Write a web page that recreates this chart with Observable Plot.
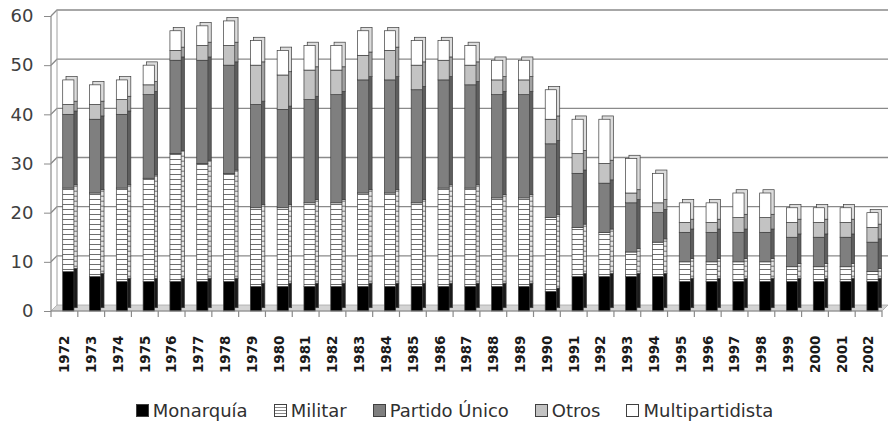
<!DOCTYPE html>
<html>
<head>
<meta charset="utf-8">
<script src="https://cdn.jsdelivr.net/npm/d3@7"></script>
<script src="https://cdn.jsdelivr.net/npm/@observablehq/plot@0.6"></script>
<style>
  body { margin: 0; background: #fff; font-family: "DejaVu Sans", sans-serif; }
  #legend { display: flex; justify-content: center; align-items: center; margin-top: 15px; height: 30px; font-size: 18px; color: #303030; padding-left: 18px; }
  .item { display: flex; align-items: center; margin: 0 13px; }
  .sw { width: 13px; height: 13px; border: 1px solid #404040; margin-right: 4px; box-sizing: border-box; }
</style>
</head>
<body>
<div id="chart"></div>
<div id="legend"></div>
<script>
const years = ["1972","1973","1974","1975","1976","1977","1978","1979","1980","1981","1982","1983","1984","1985","1986","1987","1988","1989","1990","1991","1992","1993","1994","1995","1996","1997","1998","1999","2000","2001","2002"];
const monarquia       = [8,7,6,6,6,6,6,5,5,5,5,5,5,5,5,5,5,5,4,7,7,7,7,6,6,6,6,6,6,6,6];
const militar         = [17,17,19,21,26,24,22,16,16,17,17,19,19,17,20,20,18,18,15,10,9,5,7,4,4,4,4,3,3,3,2];
const partidoUnico    = [15,15,15,17,19,21,22,21,20,21,22,23,23,23,22,21,21,21,15,11,10,10,6,6,6,6,6,6,6,6,6];
const otros           = [2,3,3,2,2,3,4,8,7,6,5,5,6,5,4,4,3,3,5,4,4,2,2,2,2,3,3,3,3,3,3];
const multipartidista = [5,4,4,4,4,4,5,5,5,5,5,5,4,5,4,4,4,4,6,7,9,7,6,4,4,5,5,3,3,3,3];
const seriesNames = ["Monarquía","Militar","Partido Único","Otros","Multipartidista"];
const seriesValues = [monarquia, militar, partidoUnico, otros, multipartidista];
const yTicks = [0,10,20,30,40,50,60];

const frontFill = {"Monarquía":"#000000","Militar":"url(#stripes)","Partido Único":"#7f7f7f","Otros":"#c3c3c3","Multipartidista":"#ffffff"};
const sideFill  = {"Monarquía":"#1a1a1a","Militar":"url(#stripesSide)","Partido Único":"#5e5e5e","Otros":"#a2a2a2","Multipartidista":"#dcdcdc"};

const data = seriesNames.flatMap((s, i) => years.map((y, j) => ({year: y, series: s, value: seriesValues[i][j]})));

function backdrop(index, scales, values, dims) {
  const {width, height, marginLeft, marginRight, marginTop, marginBottom} = dims;
  const g = d3.create("svg:g");
  const defs = g.append("defs");
  const p = defs.append("pattern").attr("id","stripes").attr("patternUnits","userSpaceOnUse").attr("width",8).attr("height",5);
  p.append("rect").attr("width",8).attr("height",5).attr("fill","#fff");
  p.append("line").attr("x1",0).attr("x2",8).attr("y1",4.5).attr("y2",4.5).attr("stroke","#6e6e6e").attr("stroke-width",1);
  const q = defs.append("pattern").attr("id","stripesSide").attr("patternUnits","userSpaceOnUse").attr("width",8).attr("height",5);
  q.append("rect").attr("width",8).attr("height",5).attr("fill","#e6e6e6");
  q.append("line").attr("x1",0).attr("x2",8).attr("y1",4.5).attr("y2",4.5).attr("stroke","#6e6e6e").attr("stroke-width",1);
  const x0 = marginLeft, x1 = width - marginRight, yb = height - marginBottom;
  const off = 6;
  g.append("path").attr("d", `M${x0},${yb} L${x0+off},${yb-off} L${x1+off},${yb-off} L${x1},${yb} Z`)
    .attr("fill","#d4d4d4").attr("stroke","#a8a8a8").attr("stroke-width",0.8);
  for (const t of yTicks) {
    const y = scales.y(t);
    if (t > 0) g.append("path").attr("d", `M${x0},${y} L${x0+off},${y-off} L${x1+off},${y-off}`)
      .attr("fill","none").attr("stroke","#8a8a8a").attr("stroke-width",1.3);
  }
  g.append("line").attr("x1",x0+off).attr("x2",x0+off).attr("y1",scales.y(60)-off).attr("y2",yb-off).attr("stroke","#a0a0a0");
  return g.node();
}

function axes(index, scales, values, dims) {
  const {width, height, marginLeft, marginRight, marginTop, marginBottom} = dims;
  const g = d3.create("svg:g");
  const x0 = marginLeft, x1 = width - marginRight, yb = height - marginBottom;
  g.append("line").attr("x1",x0).attr("x2",x0).attr("y1",scales.y(60)).attr("y2",yb).attr("stroke","#8a8a8a").attr("stroke-width",1.2);
  g.append("line").attr("x1",x0).attr("x2",x1).attr("y1",yb).attr("y2",yb).attr("stroke","#8a8a8a").attr("stroke-width",1.2);
  const n = years.length;
  const step = (x1 - x0) / n;
  for (let i = 0; i <= n; i++) {
    g.append("line").attr("x1",x0+i*step).attr("x2",x0+i*step).attr("y1",yb).attr("y2",yb+6).attr("stroke","#8a8a8a").attr("stroke-width",1.2);
  }
  return g.node();
}

const chart = Plot.plot({
  width: 891,
  height: 380,
  marginLeft: 51,
  marginRight: 9,
  marginTop: 16,
  marginBottom: 69,
  style: {fontFamily: "'DejaVu Sans', sans-serif"},
  x: {domain: years, paddingInner: 0.5, paddingOuter: 0.25, round: false, label: null},
  y: {domain: [0, 60], label: null},
  marks: [
    backdrop,
    Plot.barY(data, {x: "year", y: "value", z: "series", fill: d => sideFill[d.series], stroke: "#3c3c3c", strokeWidth: 0.7, insetRight: 2.2, dx: 8.3, dy: -3.3}),
    Plot.barY(data, {x: "year", y: "value", z: "series", fill: d => frontFill[d.series], stroke: "#3c3c3c", strokeWidth: 0.7, insetRight: 2.2, dx: 5}),
    axes,
    Plot.axisY({ticks: yTicks, tickSize: 7, tickPadding: 11, fontSize: 18, fill: "#404040", stroke: "#8a8a8a"}),
    Plot.axisX({tickRotate: -90, tickSize: 0, tickPadding: 24, fontSize: 13.5, fontWeight: "bold", fill: "#1a1a1a"})
  ]
});
document.getElementById("chart").appendChild(chart);

const legendFill = {"Monarquía":"#000","Militar":"repeating-linear-gradient(to bottom,#fff 0,#fff 2px,#888 2px,#888 3px)","Partido Único":"#7f7f7f","Otros":"#c3c3c3","Multipartidista":"#fff"};
const legend = document.getElementById("legend");
for (const s of seriesNames) {
  const it = document.createElement("div");
  it.className = "item";
  const sw = document.createElement("span");
  sw.className = "sw";
  sw.style.background = legendFill[s];
  const tx = document.createElement("span");
  tx.textContent = s;
  it.appendChild(sw); it.appendChild(tx);
  legend.appendChild(it);
}
</script>
</body>
</html>
